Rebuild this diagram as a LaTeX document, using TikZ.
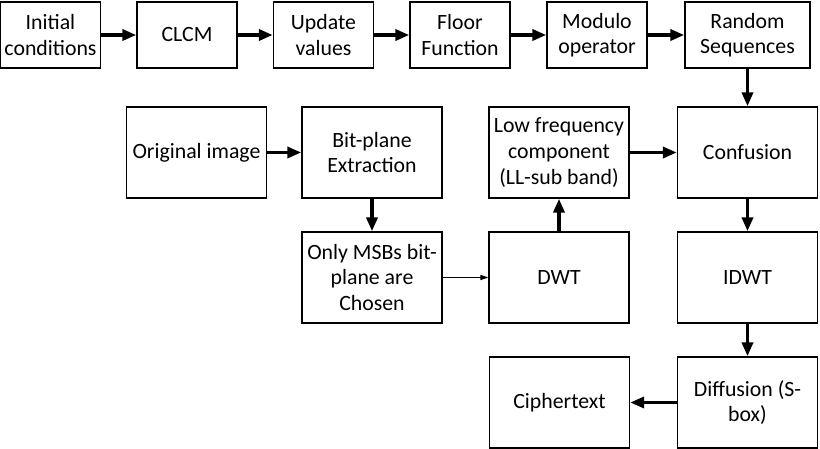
\documentclass[tikz,border=0pt]{standalone}
\usepackage{fontspec}
\setmainfont{Carlito}
\usetikzlibrary{arrows.meta, positioning}

\begin{document}
\begin{tikzpicture}[x=0.5pt, y=-0.5pt,
    block/.style={rectangle, draw, line width=0.7pt, minimum width=70pt, minimum height=45.5pt, align=center, inner sep=1pt, font=\fontsize{10.9}{12.8}\selectfont},
    topblock/.style={block, minimum width=50pt, minimum height=33pt},
    arr/.style={-{Triangle[length=7pt, width=5.5pt]}, line width=1.8pt},
    thinarr/.style={-{Triangle[length=4pt, width=2.6pt]}, line width=0.5pt}]

  \useasboundingbox (0,0) rectangle (820,449);

  % Key generation chain
  \node[topblock] (init) at (50.5, 35) {Initial\\conditions};
  \node[topblock] (clcm) at (187, 35) {CLCM};
  \node[topblock] (upd) at (323.5, 35) {Update\\values};
  \node[topblock] (floor) at (460, 35) {Floor\\Function};
  \node[topblock] (modulo) at (597, 35) {Modulo\\operator};
  \node[topblock, minimum width=62.5pt] (rand) at (747.5, 35) {Random\\Sequences};

  % Image side
  \node[block] (orig) at (196.5, 152.5) {Original image};
  \node[block] (bitpl) at (372, 152.5) {Bit-plane\\Extraction};
  \node[block] (msb) at (372, 277.5) {Only MSBs bit-\\plane are\\Chosen};
  \node[block] (dwt) at (559, 277.5) {DWT};
  \node[block] (low) at (559, 152.5) {Low frequency\\component\\(LL-sub band)};

  % Encryption
  \node[block] (conf) at (747.5, 152.5) {Confusion};
  \node[block] (idwt) at (747.5, 277.5) {IDWT};
  \node[block] (diff) at (747.5, 402.5) {Diffusion (S-\\box)};
  \node[block] (cipher) at (559.5, 402.5) {Ciphertext};

  % Arrows
  \draw[arr] (init) -- (clcm);
  \draw[arr] (clcm) -- (upd);
  \draw[arr] (upd) -- (floor);
  \draw[arr] (floor) -- (modulo);
  \draw[arr] (modulo) -- (rand);
  \draw[arr] (rand) -- (conf);

  \draw[arr] (orig) -- (bitpl);
  \draw[arr] (bitpl) -- (msb);
  \draw[thinarr] (msb) -- (dwt);
  \draw[arr] (dwt) -- (low);
  \draw[arr] (low) -- (conf);

  \draw[arr] (conf) -- (idwt);
  \draw[arr] (idwt) -- (diff);
  \draw[arr] (diff) -- (cipher);
\end{tikzpicture}
\end{document}
